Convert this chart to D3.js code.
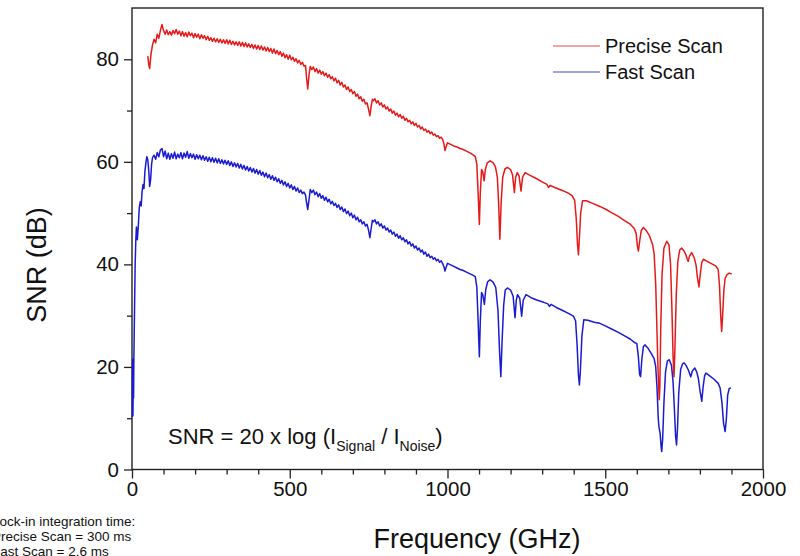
<!DOCTYPE html>
<html><head><meta charset="utf-8">
<script src="https://cdn.jsdelivr.net/npm/d3@7"></script>
<style>body{margin:0;background:#fff;} svg text{font-family:Arial,"Liberation Sans",sans-serif;fill:#111;}</style>
</head><body><svg id="c" width="800" height="556"></svg>
<script>
const xTicks=[0,500,1000,1500,2000];
const yTicks=[0,20,40,60,80];
const xMinor=[100,200,300,400,600,700,800,900,1100,1200,1300,1400,1600,1700,1800,1900];
const yMinor=[10,30,50,70];
const seriesNames=["Precise Scan","Fast Scan"];
const seriesColors=["#e61919","#1a1ad0"];
const noteLines=["Lock-in integration time:","Precise Scan = 300 ms","Fast Scan = 2.6 ms"];

const preciseScan=[[50,80.6],[53,79.0],[56,78.2],[60,80.9],[65,82.8],[70,83.9],[75,83.2],[80,84.9],[85,84.1],[90,85.6],[95,86.8],
[100,85.6],[105,84.9],[110,85.7],[115,84.8],[120,85.4],[125,84.7],[130,85.6],[135,85.0],[140,85.8],[145,84.9],[150,85.5],[155,84.6],[160,85.4],[165,84.5],[170,85.2],[175,84.4],[180,85.3],[185,84.6],[190,85.1],[195,84.2],
[200,85.0],[205,84.3],[210,84.9],[215,84.0],[220,84.8],[225,84.1],[230,84.6],[235,83.8],[240,84.5],[245,83.7],[250,84.2],[255,83.5],[260,84.1],[265,83.4],[270,84.0],[275,83.3],[280,83.9],[285,83.2],[290,83.8],[295,83.1],
[300,83.8],[305,83.0],[310,83.7],[315,82.9],[320,83.5],[325,82.8],[330,83.4],[335,82.7],[340,83.4],[345,82.6],[350,83.3],[355,82.5],[360,83.2],[365,82.4],[370,83.0],[375,82.3],[380,82.9],[385,82.1],[390,82.8],[395,82.0],
[400,82.7],[405,81.9],[410,82.6],[415,81.8],[420,82.4],[425,81.6],[430,82.3],[435,81.5],[440,82.1],[445,81.2],[450,82.0],[455,81.1],[460,81.7],[465,80.9],[470,81.5],[475,80.6],[480,81.2],[485,80.3],[490,80.9],[495,80.0],
[500,80.8],[505,79.9],[510,80.4],[515,79.6],[520,80.1],[525,79.3],[530,79.8],[535,79.0],[540,79.4],[545,78.7],[550,78.8],[553,76.5],[557,74.2],[561,76.9],[565,78.6],[570,78.0],[575,78.5],[580,77.6],[585,78.2],[590,77.3],[595,77.9],
[600,77.1],[605,77.6],[610,76.8],[615,77.3],[620,76.5],[625,77.0],[630,76.2],[635,76.6],[640,75.8],[645,76.3],[650,75.4],[655,75.9],[660,75.0],[665,75.5],[670,74.6],[675,75.0],[680,74.1],[685,74.6],[690,73.7],[695,74.1],
[700,73.3],[705,73.7],[710,72.8],[715,73.2],[720,72.3],[725,72.7],[730,71.8],[735,72.2],[740,71.3],[745,71.5],[750,70.2],[754,69.0],[758,70.8],[762,72.2],[765,71.9],[770,72.3],[775,71.5],[780,71.9],[785,71.1],[790,71.5],[795,70.7],
[800,71.1],[805,70.3],[810,70.7],[815,69.9],[820,70.3],[825,69.5],[830,69.9],[835,69.1],[840,69.5],[845,68.8],[850,69.2],[855,68.5],[860,68.9],[865,68.1],[870,68.5],[875,67.8],[880,68.1],[885,67.4],[890,67.8],[895,67.1],
[900,67.5],[905,66.8],[910,67.1],[915,66.4],[920,66.8],[925,66.1],[930,66.4],[935,65.8],[940,66.1],[945,65.5],[950,65.8],[955,65.2],[960,65.4],[965,64.9],[970,65.1],[975,64.6],[980,64.8],[985,64.3],[989,63.4],[992,62.2],[995,62.8],
[1000,63.7],[1010,63.4],[1020,63.1],[1030,62.9],[1040,62.6],[1050,62.4],[1060,62.1],[1070,61.8],[1080,61.4],[1088,61.0],[1093,59.5],[1097,54.0],[1101,47.8],[1104,54.0],[1108,58.5],[1112,58.0],[1116,56.3],[1120,58.5],[1126,59.8],[1135,60.2],[1145,59.8],
[1152,59.0],[1158,57.0],[1162,52.0],[1166,44.9],[1170,52.0],[1175,57.0],[1182,58.6],[1190,58.9],[1200,58.5],[1206,57.5],[1212,54.0],[1216,57.0],[1221,57.9],[1227,57.2],[1233,54.3],[1238,57.0],[1246,57.9],[1260,57.4],[1280,56.8],
[1300,56.1],[1315,55.6],[1320,55.0],[1325,55.4],[1340,55.0],[1360,54.5],[1380,54.0],[1395,53.4],[1403,52.5],[1408,49.0],[1412,44.0],[1415,41.9],[1418,45.0],[1422,50.0],[1428,52.4],[1440,52.4],[1460,51.9],[1483,51.3],
[1500,50.8],[1520,50.1],[1540,49.4],[1560,48.6],[1580,47.8],[1592,47.0],[1598,46.0],[1602,43.5],[1605,42.6],[1609,44.5],[1614,46.6],[1621,47.2],[1630,46.6],[1640,45.6],[1650,43.9],[1655,42.0],[1660,36.0],[1663,29.2],[1667,20.0],[1671,13.6],
[1673,16.0],[1676,28.0],[1680,38.0],[1686,43.2],[1695,44.5],[1702,43.8],[1707,40.0],[1711,32.0],[1715,22.0],[1718,18.1],[1721,24.0],[1725,34.0],[1730,40.5],[1736,42.8],[1742,43.2],[1750,42.6],[1756,41.8],[1760,41.0],[1763,40.6],
[1767,41.6],[1774,42.3],[1782,41.3],[1788,39.8],[1792,37.5],[1797,35.6],[1801,38.0],[1806,40.4],[1811,41.0],[1820,40.7],[1835,40.2],[1850,39.7],[1858,39.0],[1862,36.0],[1866,30.0],[1869,26.9],[1872,30.0],[1876,35.0],[1880,37.3],[1886,38.0],[1893,38.3],[1901,38.1]];

const fastScan=[[1,10.2],[2,21.5],[3,10.5],[4,17.0],[5,14.0],[6,22.0],[8,31.0],[10,40.0],[12,44.5],[14,47.3],[17,44.8],[20,47.5],[23,51.0],[26,52.2],[29,51.4],[32,54.2],[35,55.6],[38,54.8],[41,58.2],[44,59.8],[47,61.0],[50,60.4],[53,58.3],[56,55.2],[59,56.5],[62,59.5],[65,60.8],[70,61.3],[75,60.5],[80,61.8],[85,61.0],[90,62.3],[95,62.6],
[100,61.0],[105,62.1],[110,60.6],[115,61.7],[120,60.5],[125,61.6],[130,60.7],[135,61.9],[140,60.6],[145,61.5],[150,60.8],[155,61.8],[160,60.6],[165,61.7],[170,60.9],[175,62.0],[180,60.7],[185,61.6],[190,60.8],[195,61.5],
[200,60.5],[205,61.4],[210,60.6],[215,61.3],[220,60.4],[225,61.2],[230,60.3],[235,61.0],[240,60.1],[245,60.9],[250,60.0],[255,60.8],[260,59.9],[265,60.7],[270,59.8],[275,60.6],[280,59.7],[285,60.4],[290,59.6],[295,60.3],
[300,59.5],[305,60.2],[310,59.3],[315,60.0],[320,59.1],[325,59.8],[330,59.0],[335,59.7],[340,58.8],[345,59.5],[350,58.6],[355,59.3],[360,58.4],[365,59.1],[370,58.2],[375,58.9],[380,58.0],[385,58.7],[390,57.8],[395,58.5],
[400,57.6],[405,58.3],[410,57.4],[415,58.0],[420,57.1],[425,57.8],[430,56.9],[435,57.5],[440,56.6],[445,57.3],[450,56.4],[455,57.0],[460,56.1],[465,56.7],[470,55.8],[475,56.4],[480,55.5],[485,56.1],[490,55.2],[495,55.8],
[500,54.9],[505,55.5],[510,54.6],[515,55.2],[520,54.3],[525,54.9],[530,54.0],[535,54.5],[540,53.8],[545,54.1],[550,53.5],[553,52.2],[557,50.7],[561,52.6],[565,54.6],[570,54.0],[575,54.5],[580,53.6],[585,54.1],[590,53.2],[595,53.8],
[600,52.9],[605,53.4],[610,52.5],[615,53.1],[620,52.2],[625,52.7],[630,51.8],[635,52.3],[640,51.5],[645,51.9],[650,51.1],[655,51.6],[660,50.7],[665,51.2],[670,50.3],[675,50.8],[680,49.9],[685,50.4],[690,49.5],[695,50.0],
[700,49.1],[705,49.6],[710,48.7],[715,49.2],[720,48.3],[725,48.7],[730,47.9],[735,48.3],[740,47.5],[745,47.8],[750,46.6],[754,45.2],[758,47.0],[762,48.6],[765,48.3],[770,48.7],[775,47.9],[780,48.3],[785,47.5],[790,47.9],[795,47.1],
[800,47.5],[805,46.7],[810,47.1],[815,46.3],[820,46.7],[825,45.9],[830,46.3],[835,45.5],[840,45.9],[845,45.1],[850,45.6],[855,44.8],[860,45.2],[865,44.4],[870,44.8],[875,44.0],[880,44.4],[885,43.6],[890,44.0],[895,43.2],
[900,43.6],[905,42.8],[910,43.2],[915,42.4],[920,42.8],[925,42.0],[930,42.4],[935,41.6],[940,42.0],[945,41.3],[950,41.6],[955,41.0],[960,41.3],[965,40.7],[970,41.0],[975,40.4],[980,40.7],[985,40.1],[989,39.5],[992,38.7],[995,39.3],
[1000,40.2],[1010,39.9],[1020,39.6],[1030,39.3],[1040,39.0],[1050,38.8],[1060,38.5],[1070,38.2],[1080,37.9],[1088,37.6],[1093,35.5],[1097,29.0],[1101,22.0],[1104,29.0],[1108,34.5],[1112,34.0],[1117,32.2],[1121,35.0],[1127,36.6],[1135,37.0],[1145,36.5],
[1153,35.5],[1160,31.0],[1165,23.0],[1169,18.1],[1173,25.0],[1178,32.0],[1183,35.0],[1190,35.4],[1200,35.0],[1208,33.8],[1214,29.6],[1218,33.0],[1222,34.1],[1229,33.4],[1235,29.9],[1240,33.0],[1249,34.1],[1265,33.5],[1285,33.0],
[1305,32.6],[1318,32.3],[1323,31.8],[1328,32.2],[1345,31.6],[1365,31.0],[1385,30.4],[1399,29.9],[1406,29.0],[1411,24.0],[1415,18.5],[1418,16.5],[1421,19.0],[1426,26.0],[1432,29.2],[1445,29.1],[1465,28.7],[1483,28.5],
[1500,28.0],[1520,27.4],[1540,26.8],[1560,26.1],[1580,25.4],[1594,24.7],[1600,24.6],[1605,22.0],[1609,18.5],[1612,18.1],[1616,21.5],[1621,24.0],[1626,24.3],[1635,23.7],[1645,22.7],[1655,21.6],[1660,20.0],[1664,16.0],[1668,10.0],
[1670,8.4],[1674,7.0],[1677,4.5],[1679,3.5],[1682,6.0],[1686,13.0],[1691,19.0],[1697,21.2],[1703,21.4],[1710,20.3],[1715,17.0],[1719,12.0],[1723,6.5],[1726,4.8],[1729,8.0],[1733,15.0],[1739,19.5],[1745,20.6],[1750,20.8],
[1757,20.2],[1764,19.3],[1771,18.1],[1776,19.2],[1784,19.8],[1790,19.0],[1795,17.8],[1800,15.5],[1806,13.3],[1810,16.0],[1815,18.3],[1819,18.8],[1830,18.3],[1845,17.6],[1858,16.8],[1864,15.9],[1870,13.0],[1875,9.0],[1880,7.4],
[1884,10.0],[1888,14.5],[1893,15.8],[1898,15.9]];

const svg=d3.select("#c");
const L=132,R=763,T=8,B=469.5;
const x=d3.scaleLinear().domain([0,2000]).range([L,R]);
const y=d3.scaleLinear().domain([0,90]).range([B,T]);

// axes
const axColor="#222";
const gx=svg.append("g").attr("transform",`translate(0,${B})`)
  .call(d3.axisBottom(x).tickValues(xTicks).tickSize(9).tickPadding(3).tickFormat(d3.format("d")));
const gxm=svg.append("g").attr("transform",`translate(0,${B})`)
  .call(d3.axisBottom(x).tickValues(xMinor).tickSize(5).tickFormat(""));
const gy=svg.append("g").attr("transform",`translate(${L},0)`)
  .call(d3.axisLeft(y).tickValues(yTicks).tickSize(8).tickPadding(5).tickFormat(d3.format("d")));
const gym=svg.append("g").attr("transform",`translate(${L},0)`)
  .call(d3.axisLeft(y).tickValues(yMinor).tickSize(5).tickFormat(""));
[gx,gxm,gy,gym].forEach(g=>{
  g.select(".domain").remove();
  g.selectAll(".tick line").attr("stroke",axColor).attr("stroke-width",1.3);
  g.selectAll(".tick text").attr("font-size",20.5).attr("fill","#111").style("font-family","Arial,'Liberation Sans',sans-serif");
});

// frame
svg.append("rect").attr("x",L).attr("y",T).attr("width",R-L).attr("height",B-T)
  .attr("fill","none").attr("stroke",axColor).attr("stroke-width",1.4);

// lines
const line=d3.line().x(d=>x(d[0])).y(d=>y(d[1]));
svg.append("path").datum(fastScan).attr("d",line).attr("fill","none")
  .attr("stroke",seriesColors[1]).attr("stroke-width",1.5).attr("stroke-linejoin","round");
svg.append("path").datum(preciseScan).attr("d",line).attr("fill","none")
  .attr("stroke",seriesColors[0]).attr("stroke-width",1.5).attr("stroke-linejoin","round");

// legend
seriesNames.forEach((n,i)=>{
  const yy=46+i*26;
  svg.append("line").attr("x1",553).attr("x2",600).attr("y1",yy).attr("y2",yy)
    .attr("stroke",seriesColors[i]).attr("stroke-width",1.2).attr("opacity",0.8);
  svg.append("text").attr("x",605).attr("y",yy+7).attr("font-size",20).text(n);
});

// axis titles
svg.append("text").attr("x",477).attr("y",548).attr("text-anchor","middle").attr("font-size",27).text("Frequency (GHz)");
svg.append("text").attr("transform","translate(46,265) rotate(-90)").attr("text-anchor","middle").attr("font-size",27).text("SNR (dB)");

// formula annotation
const f=svg.append("text").attr("x",168).attr("y",444).attr("font-size",22);
f.append("tspan").text("SNR = 20 x log (I");
f.append("tspan").attr("font-size",14).attr("dy",7).text("Signal");
f.append("tspan").attr("dy",-7).text(" / I");
f.append("tspan").attr("font-size",14).attr("dy",7).text("Noise");
f.append("tspan").attr("dy",-7).text(")");

// bottom-left note
noteLines.forEach((t,i)=>{
  svg.append("text").attr("x",-8).attr("y",526+i*15).attr("font-size",13.5).attr("fill","#222").text(t);
});
</script></body></html>
